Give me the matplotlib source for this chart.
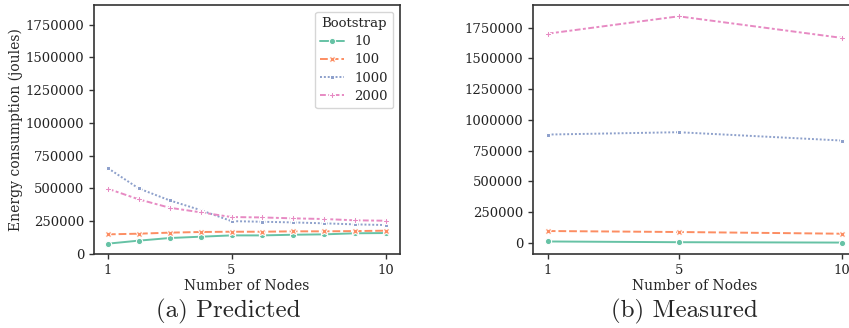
import numpy as np
import pandas as pd
import matplotlib
matplotlib.use("Agg")
import matplotlib.pyplot as plt
import seaborn as sns

# data
nodes_pred = [1, 2, 3, 4, 5, 6, 7, 8, 9, 10]
pred_10 = [79000, 102000, 122000, 132000, 142000, 142000, 147000, 150000, 158000, 160000]
pred_100 = [150000, 155000, 163000, 168000, 170000, 170000, 173000, 173000, 175000, 178000]
pred_1000 = [655000, 500000, 409000, 335000, 251000, 246000, 241000, 234000, 226000, 221000]
pred_2000 = [498000, 417000, 353000, 318000, 282000, 279000, 272000, 267000, 257000, 254000]

nodes_meas = [1, 5, 10]
meas_10 = [10000, 4000, 1000]
meas_100 = [95000, 87000, 73000]
meas_1000 = [880000, 899000, 831000]
meas_2000 = [1701000, 1842000, 1666000]

bootstraps = ["10", "100", "1000", "2000"]


def long_form(nodes, series):
    rows = []
    for b, vals in zip(bootstraps, series):
        for n, v in zip(nodes, vals):
            rows.append({"Number of Nodes": n, "Energy": v, "Bootstrap": b})
    return pd.DataFrame(rows)


df_pred = long_form(nodes_pred, [pred_10, pred_100, pred_1000, pred_2000])
df_meas = long_form(nodes_meas, [meas_10, meas_100, meas_1000, meas_2000])

sns.set_theme(style="ticks")
plt.rcParams["font.family"] = ["DejaVu Serif"]
plt.rcParams["axes.edgecolor"] = "#333333"
plt.rcParams["axes.linewidth"] = 1.2
plt.rcParams["xtick.color"] = "#333333"
plt.rcParams["ytick.color"] = "#333333"
plt.rcParams["xtick.labelcolor"] = "#222222"
plt.rcParams["ytick.labelcolor"] = "#222222"

fig = plt.figure(figsize=(8.49, 3.28), dpi=100)
ax1 = fig.add_axes([0.1107, 0.2256, 0.3604, 0.7591])
ax2 = fig.add_axes([0.6278, 0.2256, 0.3816, 0.7591])

palette = sns.color_palette("Set2", 4)

for ax, df, show_legend in [(ax1, df_pred, True), (ax2, df_meas, False)]:
    sns.lineplot(data=df, x="Number of Nodes", y="Energy", hue="Bootstrap",
                 style="Bootstrap", markers=True, dashes=True, palette=palette,
                 hue_order=bootstraps, style_order=bootstraps,
                 markersize=4.5, linewidth=1.4, ax=ax, legend=show_legend)
    ax.set_xticks([1, 5, 10])
    ax.set_xlim(0.55, 10.45)
    ax.ticklabel_format(axis="y", style="plain", useOffset=False)
    ax.tick_params(labelsize=9.5, length=3.5, width=1)
    ax.set_xlabel("Number of Nodes", fontsize=10, labelpad=1.5)

ax1.set_ylim(0, 1.9e6)
ax1.set_yticks(np.arange(0, 1750001, 250000))
ax1.set_ylabel("Energy consumption (joules)", fontsize=10, labelpad=2)
ax2.set_ylim(-92000, 1.934e6)
ax2.set_yticks(np.arange(0, 1750001, 250000))
ax2.set_ylabel("")

leg = ax1.legend(title="Bootstrap", loc="upper right", fontsize=9.5,
                 title_fontsize=9.5, frameon=True, labelspacing=0.4,
                 handlelength=1.8)
leg.get_frame().set_edgecolor("#cccccc")

fig.text(228 / 849, 1 - 311 / 328, "(a) Predicted", ha="center", va="center",
         fontfamily="cmr10", fontsize=18)
fig.text(684 / 849, 1 - 311 / 328, "(b) Measured", ha="center", va="center",
         fontfamily="cmr10", fontsize=18)

fig.savefig("out.png", dpi=100)
